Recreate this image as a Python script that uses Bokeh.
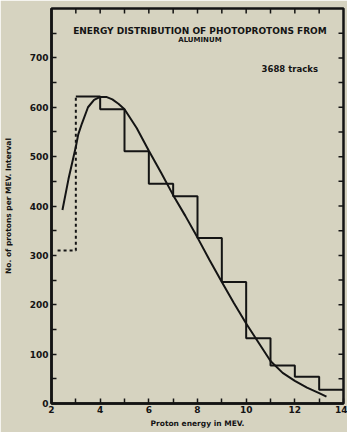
import math
from bokeh.plotting import figure
from bokeh.models import LinearAxis, FixedTicker, Range1d, ColumnDataSource
from bokeh.core.properties import value
from bokeh.embed import file_html
from bokeh.resources import INLINE

# Histogram of proton counts per 1 MeV interval
bin_edges = [3, 4, 5, 6, 7, 8, 9, 10, 11, 12, 13, 14]
bin_counts = [622, 596, 511, 445, 420, 335, 246, 132, 77, 54, 28]

# Lowest (uncertain) interval, drawn dashed
low_bin_edges = [2.25, 3.0]
low_bin_count = 310

# Smooth theoretical curve
curve_x = [2.45, 2.7, 3.0, 3.1, 3.25, 3.5, 3.75, 4.0, 4.25, 4.5, 4.75, 5.0, 5.5, 6.0,
           6.5, 7.0, 7.5, 8.0, 8.5, 9.0, 9.5, 10.0, 10.5, 11.0, 11.5, 12.0, 12.5,
           13.0, 13.3]
curve_y = [392, 455, 520, 545, 567, 600, 615, 621, 621, 616, 607, 596, 558, 512,
           468, 422, 380, 336, 290, 246, 203, 162, 124, 86, 62, 46, 32, 21, 14]

x_tick_labels = ["2", "4", "6", "8", "10", "12", "14"]
y_tick_labels = ["0", "100", "200", "300", "400", "500", "600", "700"]
y_minor_ticks = [50, 150, 250, 350, 450, 550, 650, 750]
x_top_ticks = [3, 4, 5, 6, 7, 8, 9, 10, 11, 12, 13]
y_right_ticks = [50, 100, 150, 200, 250, 300, 350, 400, 450, 500, 550, 600, 650, 700, 750]

title_main = "ENERGY DISTRIBUTION OF PHOTOPROTONS FROM"
title_sub = "ALUMINUM"
track_note = "3688 tracks"

X_MIN, X_MAX = 2, 14
Y_MIN, Y_MAX = 0, 800

BG = "#d6d3c0"
INK = "#141414"
FONT = "DejaVu Sans"

p = figure(width=347, height=432, output_backend="svg", toolbar_location=None,
           x_range=Range1d(X_MIN, X_MAX), y_range=Range1d(Y_MIN, Y_MAX),
           x_axis_type=None, y_axis_type=None,
           min_border_left=48, min_border_right=4, min_border_top=8,
           min_border_bottom=29)
p.background_fill_color = BG
p.border_fill_color = BG
p.outline_line_color = INK
p.outline_line_width = 2.5
p.xgrid.visible = False
p.ygrid.visible = False


def style_axis(ax):
    ax.axis_line_color = INK
    ax.axis_line_width = 2.5
    ax.major_tick_line_color = INK
    ax.minor_tick_line_color = INK
    ax.major_tick_line_width = 1.5
    ax.minor_tick_line_width = 1.5
    ax.major_tick_in = 5
    ax.major_tick_out = 0
    ax.minor_tick_in = 5
    ax.minor_tick_out = 0
    ax.major_label_text_font = FONT
    ax.major_label_text_font_style = "bold"
    ax.major_label_text_color = INK
    ax.major_label_text_font_size = "9px"
    ax.axis_label_text_font = FONT
    ax.axis_label_text_font_style = "bold"
    ax.axis_label_text_color = INK
    ax.axis_label_text_font_size = "7.5px"


x_ticks = [int(s) for s in x_tick_labels]
x_minor = [e for e in bin_edges if e not in x_ticks]
y_ticks = [int(s) for s in y_tick_labels]

bottom = LinearAxis(ticker=FixedTicker(ticks=x_ticks, minor_ticks=x_minor),
                    axis_label="Proton energy in MEV.")
style_axis(bottom)
bottom.major_label_standoff = 2
bottom.axis_label_standoff = 3
p.add_layout(bottom, "below")

left = LinearAxis(ticker=FixedTicker(ticks=y_ticks, minor_ticks=y_minor_ticks),
                  axis_label="No. of protons per MEV. Interval")
style_axis(left)
left.major_label_standoff = 3
left.axis_label_standoff = 14
p.add_layout(left, "left")

# inward tick marks along the top and right edges of the frame
# (dash markers centred on the edge; the outer half is clipped by the frame)
p.scatter(x=x_top_ticks, y=[Y_MAX] * len(x_top_ticks), marker="dash", size=10,
          angle=math.pi / 2, line_color=INK, line_width=1.5)
p.scatter(x=[X_MAX] * len(y_right_ticks), y=y_right_ticks, marker="dash", size=10,
          line_color=INK, line_width=1.5)

# dashed lowest interval: horizontal at its count, then up to the first solid bin
p.line(x=[low_bin_edges[0], low_bin_edges[1], low_bin_edges[1]],
       y=[low_bin_count, low_bin_count, bin_counts[0]],
       line_color=INK, line_width=2, line_dash="3 3")

# solid histogram
hist = ColumnDataSource(dict(x=bin_edges, y=bin_counts + [bin_counts[-1]]))
p.step(x="x", y="y", source=hist, mode="after", line_color=INK, line_width=2)

# smooth curve
p.line(x=curve_x, y=curve_y, line_color=INK, line_width=2)

# titles inside the frame
p.text(x=[8.1], y=[755], text=[title_main],
       text_font=value(FONT), text_font_style="bold", text_color=INK,
       text_font_size="9px", text_align="center", text_baseline="middle")
p.text(x=[8.1], y=[736], text=[title_sub],
       text_font=value(FONT), text_font_style="bold", text_color=INK,
       text_font_size="7px", text_align="center", text_baseline="middle")
p.text(x=[12.95], y=[678], text=[track_note],
       text_font=value(FONT), text_font_style="bold", text_color=INK,
       text_font_size="8.5px", text_align="right", text_baseline="middle")

open("out.html", "w").write(file_html(p, INLINE))
